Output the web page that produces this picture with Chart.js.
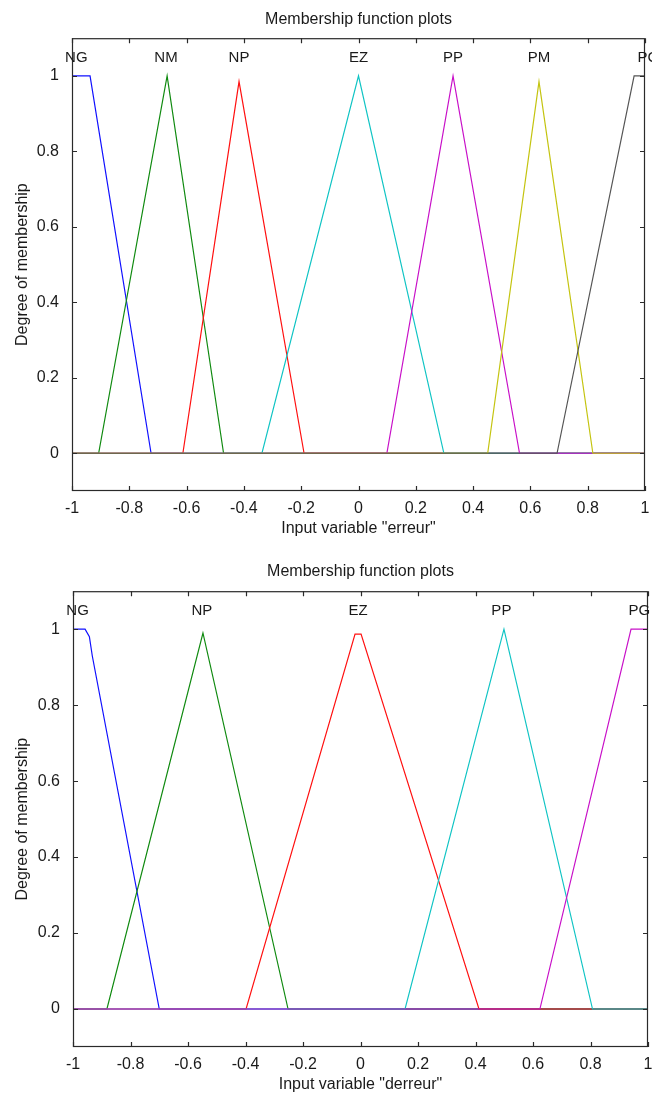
<!DOCTYPE html>
<html>
<head>
  <meta charset="UTF-8">
  <title>Membership function plots</title>
  <script src="https://cdn.jsdelivr.net/npm/chart.js"></script>
</head>
<body style="margin:0;background:#fff">
  <div style="position:absolute;left:0;top:0"><canvas id="erreur" width="652" height="550"></canvas></div>
  <div style="position:absolute;left:0;top:552px"><canvas id="derreur" width="652" height="545"></canvas></div>
  <script>
    const xTicks = [-1, -0.8, -0.6, -0.4, -0.2, 0, 0.2, 0.4, 0.6, 0.8, 1];
    const yTicks = [0, 0.2, 0.4, 0.6, 0.8, 1];

    // input "erreur" : 7 fuzzy sets, [x, membership] corner points
    const erreurNames = ['NG', 'NM', 'NP', 'EZ', 'PP', 'PM', 'PG'];
    const erreurColors = ['#1010ff', '#108a10', '#ff1010', '#10c4c4', '#c810c8', '#c4c410', '#555555'];
    const erreurLabelX = [-0.985, -0.672, -0.417, 0, 0.33, 0.63, 1.012];
    const erreurNG = [[-1, 1], [-0.937, 1], [-0.724, 0], [1, 0]];
    const erreurNM = [[-1, 0], [-0.907, 0], [-0.668, 1], [-0.471, 0], [1, 0]];
    const erreurNP = [[-1, 0], [-0.613, 0], [-0.417, 0.985], [-0.19, 0], [1, 0]];
    const erreurEZ = [[-1, 0], [-0.337, 0], [0, 1], [0.298, 0], [1, 0]];
    const erreurPP = [[-1, 0], [0.099, 0], [0.33, 1], [0.562, 0], [1, 0]];
    const erreurPM = [[-1, 0], [0.451, 0], [0.63, 0.985], [0.818, 0], [1, 0]];
    const erreurPG = [[-1, 0], [0.693, 0], [0.962, 1], [1, 1]];

    // input "derreur" : 5 fuzzy sets
    const derreurNames = ['NG', 'NP', 'EZ', 'PP', 'PG'];
    const derreurColors = ['#1010ff', '#108a10', '#ff1010', '#10c4c4', '#c810c8'];
    const derreurLabelX = [-0.984, -0.552, -0.008, 0.49, 0.97];
    const derreurNG = [[-1, 1], [-0.958, 1], [-0.943, 0.98], [-0.933, 0.93], [-0.7, 0], [1, 0]];
    const derreurNP = [[-1, 0], [-0.882, 0], [-0.548, 0.99], [-0.252, 0], [1, 0]];
    const derreurEZ = [[-1, 0], [-0.398, 0], [-0.019, 0.987], [0.002, 0.987], [0.412, 0], [1, 0]];
    const derreurPP = [[-1, 0], [0.155, 0], [0.499, 1], [0.807, 0], [1, 0]];
    const derreurPG = [[-1, 0], [0.624, 0], [0.941, 1], [1, 1]];

    const font = "'Liberation Sans', Arial, sans-serif";
    const labelLevel = 1.048;

    // matlab style box, inward ticks and set names above the peaks
    const frame = {
      id: 'frame',
      afterDraw(chart, args, opts) {
        const { ctx, chartArea: a, scales: { x, y } } = chart;
        ctx.save();
        ctx.strokeStyle = '#2a2a2a';
        ctx.lineWidth = 1.2;
        ctx.strokeRect(a.left + 0.5, a.top + 0.5, a.right - a.left - 1, a.bottom - a.top - 1);
        ctx.beginPath();
        xTicks.forEach(v => {
          const px = Math.round(x.getPixelForValue(v)) + 0.5;
          ctx.moveTo(px, a.bottom); ctx.lineTo(px, a.bottom - 5);
          ctx.moveTo(px, a.top); ctx.lineTo(px, a.top + 5);
        });
        yTicks.forEach(v => {
          const py = Math.round(y.getPixelForValue(v)) + 0.5;
          ctx.moveTo(a.left, py); ctx.lineTo(a.left + 5, py);
          ctx.moveTo(a.right, py); ctx.lineTo(a.right - 5, py);
        });
        ctx.stroke();
        ctx.fillStyle = '#1a1a1a';
        ctx.font = '15px ' + font;
        ctx.textAlign = 'center';
        ctx.textBaseline = 'middle';
        opts.names.forEach((n, i) => {
          ctx.fillText(n, x.getPixelForValue(opts.labelX[i]), y.getPixelForValue(labelLevel));
        });
        ctx.restore();
      }
    };

    function makeChart(id, names, colors, sets, labelX, xTitle, box) {
      new Chart(document.getElementById(id), {
        type: 'line',
        data: {
          datasets: sets.map((pts, i) => ({
            label: names[i],
            data: pts.map(p => ({ x: p[0], y: p[1] })),
            borderColor: colors[i],
            borderWidth: 1.2,
            pointRadius: 0,
            tension: 0,
            order: -i
          }))
        },
        options: {
          responsive: false,
          animation: false,
          devicePixelRatio: 1,
          layout: { padding: { left: 0, top: 0, right: box.padRight, bottom: box.padBottom } },
          plugins: {
            legend: { display: false },
            tooltip: { enabled: false },
            title: {
              display: true,
              text: 'Membership function plots',
              fullSize: false,
              color: '#1a1a1a',
              font: { family: font, size: 16, weight: 'normal' },
              padding: { top: box.titleTop, bottom: box.titleBottom }
            },
            frame: { names: names, labelX: labelX }
          },
          scales: {
            x: {
              type: 'linear',
              min: -1,
              max: 1,
              afterBuildTicks: s => { s.ticks = xTicks.map(v => ({ value: v })); },
              afterFit: s => { s.height = 47; s.paddingLeft = 0; s.paddingRight = 0; },
              grid: { display: false, drawTicks: false },
              border: { display: false },
              ticks: {
                padding: 8,
                color: '#1a1a1a',
                font: { family: font, size: 16 },
                maxRotation: 0,
                callback: v => String(Math.round(v * 10) / 10)
              },
              title: {
                display: true,
                text: xTitle,
                color: '#1a1a1a',
                font: { family: font, size: 16 },
                padding: 0
              }
            },
            y: {
              min: -0.1,
              max: 1.1,
              afterBuildTicks: s => { s.ticks = yTicks.map(v => ({ value: v })); },
              afterFit: s => { s.width = box.yWidth; },
              grid: { display: false, drawTicks: false },
              border: { display: false },
              ticks: {
                padding: 13,
                color: '#1a1a1a',
                font: { family: font, size: 16 },
                callback: v => String(Math.round(v * 10) / 10)
              },
              title: {
                display: true,
                text: 'Degree of membership',
                color: '#1a1a1a',
                font: { family: font, size: 16 },
                padding: { top: 13, bottom: 0 }
              }
            }
          }
        },
        plugins: [frame]
      });
    }

    makeChart('erreur', erreurNames, erreurColors,
      [erreurNG, erreurNM, erreurNP, erreurEZ, erreurPP, erreurPM, erreurPG],
      erreurLabelX, 'Input variable "erreur"',
      { yWidth: 72, padRight: 7, padBottom: 12, titleTop: 10, titleBottom: 9 });

    makeChart('derreur', derreurNames, derreurColors,
      [derreurNG, derreurNP, derreurEZ, derreurPP, derreurPG],
      derreurLabelX, 'Input variable "derreur"',
      { yWidth: 73, padRight: 4, padBottom: 3, titleTop: 10, titleBottom: 10 });
  </script>
</body>
</html>
